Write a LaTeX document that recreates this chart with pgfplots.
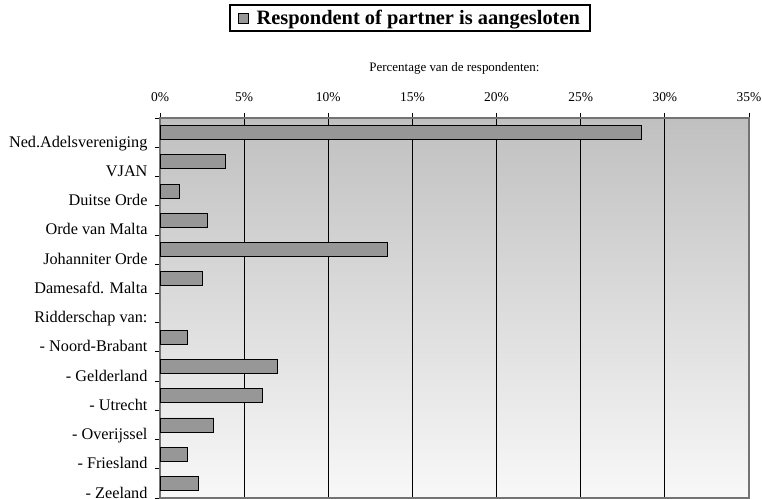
\documentclass[border=0pt]{standalone}
\usepackage{fontspec}
\setmainfont{Liberation Serif}
\usepackage{pgfplots}
\pgfplotsset{compat=1.18}
\definecolor{barcol}{HTML}{979797}
\definecolor{bgtop}{HTML}{C0C0C0}
\definecolor{bgbot}{HTML}{F8F8F8}
\begin{document}
\begin{tikzpicture}
\begin{axis}[
    scale only axis,
    width=589bp, height=380bp,
    at={(0,0)}, anchor=south west,
    clip mode=individual,
    xbar, bar width=14bp,
    y dir=reverse,
    xmin=0, xmax=35,
    ymin=-0.5, ymax=12.5,
    xtick={0,5,...,35},
    xticklabels={0\%,5\%,10\%,15\%,20\%,25\%,30\%,35\%},
    xtick pos=upper, xticklabel pos=upper,
    ytick={-0.5,0.5,1.5,...,12.5},
    yticklabels={,Ned.Adelsvereniging,VJAN,Duitse Orde,Orde van Malta,Johanniter Orde,Damesafd. Malta,Ridderschap van:,- Noord-Brabant,- Gelderland,- Utrecht,- Overijssel,- Friesland,- Zeeland},
    ytick pos=left,
    tick align=outside,
    major tick length=5bp,
    tick style={black, line width=0.8bp},
    xticklabel style={font=\fontsize{13.5}{14}\selectfont, yshift=8bp},
    yticklabel style={font=\fontsize{16.3}{17}\selectfont, anchor=base east, xshift=-4bp},
    xmajorgrids,
    grid style={black, line width=0.8bp},
    axis line style={draw=black!55, line width=1.2bp},
    axis background/.style={shade, top color=bgtop, bottom color=bgbot},
    legend style={at={(0.4244,1.2632)}, anchor=center, draw=black, line width=1.2bp,
        font=\fontsize{20.5}{21}\selectfont\bfseries, inner xsep=8bp, inner ysep=3bp},
    legend image code/.code={\draw[fill=barcol, draw=black, line width=0.6bp] (0bp,-5bp) rectangle (10bp,5bp);},
    legend cell align=left,
]
\addplot[fill=barcol, draw=black, line width=0.8bp] coordinates {
    (28.6,0) (3.9,1) (1.15,2) (2.8,3) (13.5,4) (2.5,5)
    (1.65,7) (6.95,8) (6.1,9) (3.2,10) (1.65,11) (2.3,12)
};
\addlegendentry{\hspace{6bp}Respondent of partner is aangesloten}
\node[font=\fontsize{13}{13}\selectfont] at (axis description cs:0.5,1.1316) {Percentage van de respondenten:};
\end{axis}
\pgfresetboundingbox
\path[use as bounding box] (-160bp,-1bp) rectangle (602bp,498bp);
\end{tikzpicture}
\end{document}
